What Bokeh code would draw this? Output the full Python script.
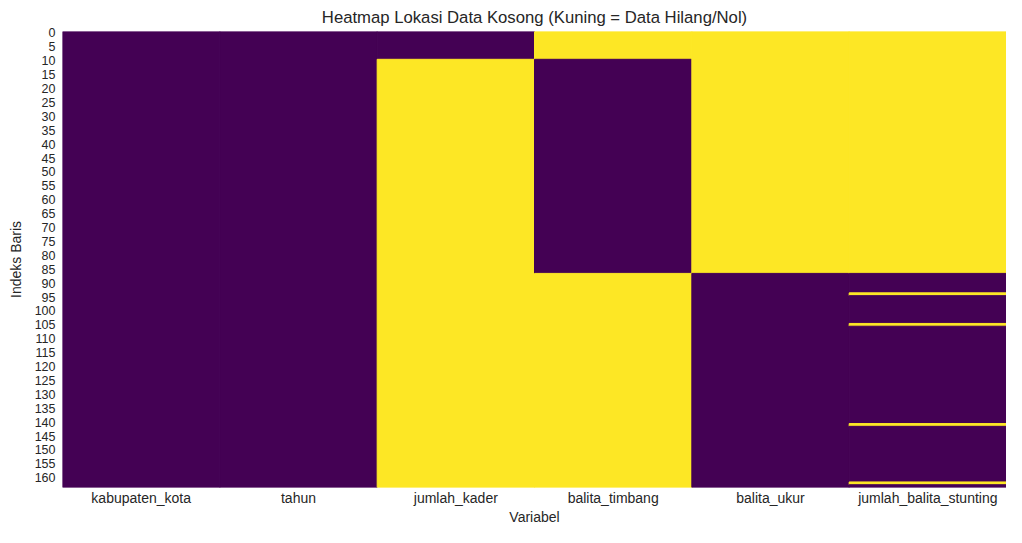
import numpy as np
from bokeh.plotting import figure
from bokeh.models import Range1d, FixedTicker, ColumnDataSource
from bokeh.embed import file_html
from bokeh.resources import INLINE

# ---- data ----
columns = ["kabupaten_kota", "tahun", "jumlah_kader", "balita_timbang",
           "balita_ukur", "jumlah_balita_stunting"]
n_rows = 164
# missing (yellow) row ranges per column, [start, end)
missing_kabupaten_kota = []
missing_tahun = []
missing_jumlah_kader = [(10, 164)]
missing_balita_timbang = [(0, 10), (87, 164)]
missing_balita_ukur = [(0, 87)]
missing_jumlah_balita_stunting = [(0, 87), (94, 95), (105, 106), (141, 142), (162, 163)]
y_tick_rows = list(range(0, 164, 5))

missing_lists = [missing_kabupaten_kota, missing_tahun, missing_jumlah_kader,
                 missing_balita_timbang, missing_balita_ukur, missing_jumlah_balita_stunting]

PURPLE = "#440154"
YELLOW = "#fde725"
TXT = "#262626"
FONT = "Liberation Sans"

mask = np.zeros((n_rows, len(columns)), dtype=int)
for ci, ranges in enumerate(missing_lists):
    for s, e in ranges:
        mask[s:e, ci] = 1

left, right, top, bottom, color = [], [], [], [], []
for ci in range(len(columns)):
    col = mask[:, ci]
    start = 0
    for r in range(1, n_rows + 1):
        if r == n_rows or col[r] != col[start]:
            left.append(ci)
            right.append(ci + 1)
            top.append(start)
            bottom.append(r)
            color.append(YELLOW if col[start] else PURPLE)
            start = r

src = ColumnDataSource(dict(left=left, right=right, top=top, bottom=bottom, color=color))

p = figure(width=1006, height=527, output_backend="svg", toolbar_location=None,
           x_range=Range1d(0, len(columns)), y_range=Range1d(n_rows, 0),
           min_border_left=62, min_border_right=0, min_border_top=0, min_border_bottom=0)
p.quad(left="left", right="right", top="top", bottom="bottom", fill_color="color",
       line_color="color", line_width=1, source=src)

p.title.text = "Heatmap Lokasi Data Kosong (Kuning = Data Hilang/Nol)"
p.title.align = "center"
p.title.text_font = FONT
p.title.text_font_style = "normal"
p.title.text_font_size = "16.7px"
p.title.text_color = TXT

p.xaxis.ticker = FixedTicker(ticks=[i + 0.5 for i in range(len(columns))])
p.xaxis.major_label_overrides = {i + 0.5: c for i, c in enumerate(columns)}
p.yaxis.ticker = FixedTicker(ticks=[r + 0.5 for r in y_tick_rows])
p.yaxis.major_label_overrides = {r + 0.5: str(r) for r in y_tick_rows}
p.xaxis.axis_label = "Variabel"
p.yaxis.axis_label = "Indeks Baris"

for ax in (p.xaxis, p.yaxis):
    ax.axis_line_color = None
    ax.major_tick_line_color = None
    ax.minor_tick_line_color = None
    ax.major_tick_out = 0
    ax.major_tick_in = 0
    ax.minor_tick_out = 0
    ax.minor_tick_in = 0
    ax.major_label_text_font = FONT
    ax.major_label_text_color = TXT
    ax.axis_label_text_font = FONT
    ax.axis_label_text_font_size = "14px"
    ax.axis_label_text_font_style = "normal"
    ax.axis_label_text_color = TXT
p.xaxis.major_label_text_font_size = "14px"
p.yaxis.major_label_text_font_size = "12.5px"
p.xaxis.major_label_standoff = 2
p.xaxis.axis_label_standoff = 0
p.yaxis.major_label_standoff = 7
p.yaxis.axis_label_standoff = 8
p.xgrid.grid_line_color = None
p.ygrid.grid_line_color = None
p.outline_line_color = None

open("out.html", "w").write(file_html(p, INLINE))
